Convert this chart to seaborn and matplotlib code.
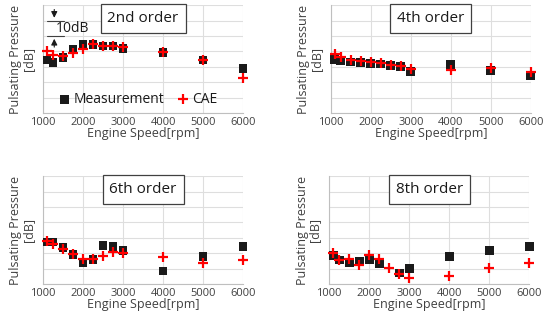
import matplotlib
matplotlib.use("Agg")
import matplotlib.pyplot as plt
import numpy as np
import pandas as pd
import seaborn as sns

speed = [1100, 1250, 1500, 1750, 2000, 2250, 2500, 2750, 3000, 4000, 5000, 6000]

meas_2nd = [34.5, 32.8, 36.2, 41.4, 44.6, 44.6, 43.5, 43.5, 42.0, 39.4, 34.5, 28.7]
cae_2nd = [40.5, 37.7, 37.1, 39.2, 41.6, 44.6, 43.5, 43.5, 42.9, 39.4, 34.5, 22.8]

meas_4th = [34.9, 34.0, 33.2, 33.0, 32.3, 31.9, 30.8, 30.4, 27.2, 31.3, 27.6, 24.6]
cae_4th = [38.1, 36.2, 34.5, 33.8, 33.2, 32.3, 31.3, 30.8, 28.4, 28.0, 29.1, 26.7]

meas_6th = [27.4, 27.4, 23.8, 19.2, 13.8, 16.2, 25.3, 24.6, 22.0, 8.6, 17.7, 24.2]
cae_6th = [27.9, 26.3, 23.1, 19.7, 16.0, 16.0, 18.1, 21.0, 19.9, 17.5, 13.8, 15.6]

meas_8th = [18.8, 15.6, 14.0, 14.5, 16.2, 13.4, np.nan, 7.3, 10.2, 17.7, 21.6, 24.2]
cae_8th = [20.3, 15.6, 16.2, 12.1, 18.8, 16.6, 10.2, 6.9, 4.3, 5.6, 10.8, 13.4]

titles = ["2nd order", "4th order", "6th order", "8th order"]
meas_all = [meas_2nd, meas_4th, meas_6th, meas_8th]
cae_all = [cae_2nd, cae_4th, cae_6th, cae_8th]

sns.set_theme(style="white")
plt.rcParams["font.family"] = ["Open Sans", "DejaVu Sans"]

text_col = "#404040"
grid_col = "#dedede"

fig = plt.figure(figsize=(5.45, 3.24), dpi=100)
positions = [
    [0.079, 0.651, 0.367, 0.333],
    [0.607, 0.651, 0.367, 0.333],
    [0.079, 0.123, 0.367, 0.333],
    [0.604, 0.123, 0.367, 0.333],
]

for i, (title, meas, cae) in enumerate(zip(titles, meas_all, cae_all)):
    ax = fig.add_axes(positions[i])
    df = pd.DataFrame({"speed": speed, "Measurement": meas, "CAE": cae})
    sns.scatterplot(data=df, x="speed", y="Measurement", marker="s", s=40,
                    color="#1a1a1a", edgecolor="none", ax=ax, clip_on=False,
                    label="Measurement", zorder=3)
    sns.scatterplot(data=df, x="speed", y="CAE", marker="+", s=55,
                    color="#ff0000", linewidth=1.6, ax=ax, clip_on=False,
                    label="CAE", zorder=4)
    ax.set_xlim(1000, 6000)
    ax.set_ylim(0, 70)
    ax.set_xticks([1000, 2000, 3000, 4000, 5000, 6000])
    ax.set_yticks(np.arange(0, 71, 10))
    ax.set_yticklabels([])
    ax.tick_params(axis="x", labelsize=8, colors=text_col, length=0, pad=3)
    ax.tick_params(axis="y", length=0)
    ax.grid(True, color=grid_col, linewidth=0.8)
    ax.set_axisbelow(True)
    for side in ["top", "right"]:
        ax.spines[side].set_visible(False)
    for side in ["left", "bottom"]:
        ax.spines[side].set_color("#bfbfbf")
        ax.spines[side].set_linewidth(0.8)
    ax.set_xlabel("Engine Speed[rpm]", fontsize=9, color=text_col, labelpad=-1)
    ax.set_ylabel("Pulsating Pressure\n[dB]", fontsize=9, color=text_col,
                  labelpad=2, linespacing=1.0)
    ax.text(0.5, 0.875, title, transform=ax.transAxes, ha="center", va="center",
            fontsize=11, color="#1a1a1a", zorder=6,
            bbox=dict(boxstyle="square,pad=0.45", facecolor="white",
                      edgecolor="#404040", linewidth=0.9))
    if i == 0:
        leg = ax.legend(loc="lower left", bbox_to_anchor=(0.03, -0.02), ncol=2,
                        frameon=False, fontsize=10, handletextpad=0.2,
                        columnspacing=0.8, borderaxespad=0.2, handlelength=1.0)
        for t in leg.get_texts():
            t.set_color("#1a1a1a")
        # 10dB scale marker
        ax.plot([1100, 1520], [60, 60], color="#404040", lw=0.8, clip_on=False)
        ax.plot([1100, 1520], [50, 50], color="#404040", lw=0.8, clip_on=False)
        ax.annotate("", xy=(1280, 60), xytext=(1280, 69),
                    arrowprops=dict(arrowstyle="-|>", color="#1a1a1a", lw=0.8,
                                    mutation_scale=9))
        ax.annotate("", xy=(1280, 50), xytext=(1280, 41),
                    arrowprops=dict(arrowstyle="-|>", color="#1a1a1a", lw=0.8,
                                    mutation_scale=9))
        ax.text(1330, 55, "10dB", fontsize=10, color="#1a1a1a", va="center")
    else:
        if ax.get_legend() is not None:
            ax.get_legend().remove()

fig.savefig("out.png", dpi=100)
